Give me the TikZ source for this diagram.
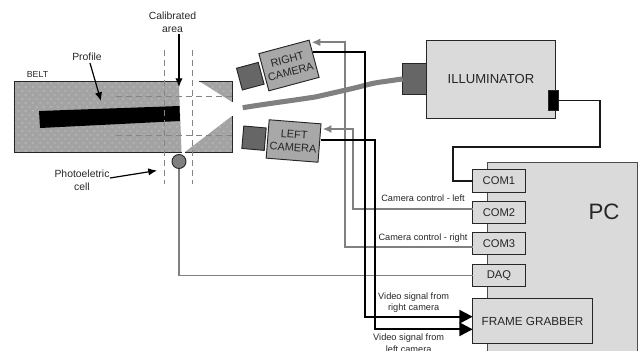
\documentclass[tikz,border=0pt]{standalone}
\usepackage{fontspec}
\setmainfont{Liberation Sans}
\usetikzlibrary{arrows.meta}
\definecolor{panel}{gray}{0.855}
\definecolor{body}{gray}{0.66}
\definecolor{lens}{gray}{0.4}
\definecolor{wiregray}{gray}{0.5}
\definecolor{beltgray}{gray}{0.64}
\definecolor{beltdot}{gray}{0.76}
\definecolor{beltcore}{gray}{0.5}
\def\u{0.75pt}
\tikzset{
  x=0.75pt,y=-0.75pt,
  box/.style={draw=black!85,line width=0.7pt,fill=panel,inner sep=0pt,outer sep=0pt,align=center,text=black!85},
  port/.style={box,minimum width=52.5*\u,minimum height=22.6*\u,font=\fontsize{8.4pt}{10pt}\selectfont},
  cambody/.style={box,fill=body,minimum width=52*\u,minimum height=38.5*\u,font=\fontsize{8.2pt}{10pt}\selectfont},
  camlens/.style={box,fill=lens,minimum width=22.5*\u,minimum height=22.5*\u},
  lbl/.style={inner sep=0pt,align=center,text=black!85,font=\fontsize{7.8pt}{9.4pt}\selectfont},
  smalllbl/.style={inner sep=0pt,align=center,text=black!85,font=\fontsize{6.9pt}{8.3pt}\selectfont},
  guide/.style={draw=black!48,line width=0.55pt,dash pattern=on 4.5pt off 3pt},
  graywire/.style={draw=wiregray,line width=1.4pt},
  tipgray/.style={-{Latex[length=6.5pt,width=6pt]}},
  blackwire/.style={draw=black!90,line width=1.3pt},
  thickblack/.style={draw=black,line width=1.7pt,-{Triangle[length=10pt,width=10pt]}},
  pointer/.style={draw=black,line width=0.9pt,-{Latex[length=6.5pt,width=5.5pt]}},
}
\begin{document}
\begin{tikzpicture}
\useasboundingbox (0,0) rectangle (642,350);
% belt
\def\beltshape{(14,81) -- (179,81) -- (179,87) -- (181.5,152) -- (14,152) -- cycle (199,81) -- (232,81) -- (232,102) -- cycle (232,116) -- (232,152) -- (185,152) -- cycle}
\fill[beltgray] \beltshape;
\begin{scope}
  \clip \beltshape;
  \foreach \r in {0,...,18}{
    \foreach \c in {0,...,31}{
      \pgfmathsetmacro{\xx}{15+\c*7.2+mod(\r,2)*3.6}
      \pgfmathsetmacro{\yy}{83+\r*4}
      \fill[beltdot] (\xx,\yy) circle[radius=1.15];
      \fill[beltcore] (\xx,\yy) circle[radius=0.5];
    }
  }
\end{scope}
\draw[draw=black!85,line width=0.7pt] (179,81) -- (14,81) -- (14,152) -- (181.5,152) (199,81) -- (232,81) -- (232,102) (232,116) -- (232,152) -- (185,152);
\fill[black] (39,111) -- (179.5,106) -- (180,121) -- (40,128) -- cycle;
% guides
\draw[guide] (164,50) -- (164,184);
\draw[guide] (192.5,50) -- (192.5,184);
\draw[guide] (116,96.5) -- (232,96.5);
\draw[guide] (116,135) -- (232,135);
% cameras and illuminator
\node[cambody,rotate=15] (rcam) at (289,65.5) {RIGHT\\CAMERA};
\node[camlens,rotate=15] (rlens) at (250.3,76.2) {};
\node[cambody,rotate=-4.5] (lcam) at (293.6,141) {LEFT\\CAMERA};
\node[camlens,rotate=-5] (llens) at (254,138.2) {};
\node[box,minimum width=128.6*\u,minimum height=78.7*\u,font=\fontsize{9.8pt}{12pt}\selectfont] (ill) at (491,79.4) {ILLUMINATOR};
\node[box,fill=lens,minimum width=23.3*\u,minimum height=31.7*\u] (illlens) at (414.4,78.9) {};
\node[box,fill=black,minimum width=10.3*\u,minimum height=20.4*\u] (illport) at (553.2,100.5) {};
% beam
\coordinate (beamstart) at (242.7,107.7);
\draw[wiregray,line width=3.8pt] (beamstart) .. controls (275,102.5) and (300,99.5) .. (316.7,96.7) -- (353.3,88.3) .. controls (365,85.5) and (372,83) .. (383.3,81.7) -- (illlens.west);
% PC
\fill[panel] (487.7,162) rectangle (637.7,352);
\draw[draw=black!70,line width=0.7pt] (487.7,352) -- (487.7,162) -- (637.7,162) -- (637.7,352);
\node[lbl,font=\fontsize{16.7pt}{20pt}\selectfont] (pc) at (604,211.7) {PC};
\node[port] (com1) at (498.9,181) {COM1};
\node[port] (com2) at (499,212.5) {COM2};
\node[port] (com3) at (499,243.3) {COM3};
\node[port] (daq) at (499,275.5) {DAQ};
\node[box,minimum width=119.6*\u,minimum height=44.6*\u,font=\fontsize{8.8pt}{11pt}\selectfont] (fg) at (532.5,321) {FRAME GRABBER};
% cell
\node[draw=black!85,line width=0.7pt,fill=wiregray,circle,minimum size=14*\u,inner sep=0pt,outer sep=0pt] (cell) at (179,161.5) {};
% connection points
\coordinate (rin) at (311.7,42.3);
\coordinate (lin) at (322.7,129);
\coordinate (rout) at (313.3,52.3);
\coordinate (lout) at (321,139.7);
\coordinate (c2) at (472.7,208.7);
\coordinate (c3) at (472.7,247);
\coordinate (fgr) at (472.7,316.7);
\coordinate (fgl) at (472.7,329.3);
% wires
\draw[graywire] (cell.south) |- (daq.west);
\draw[graywire,tipgray] (c3) -| (344.7,42.3) -- (rin);
\draw[graywire,tipgray] (c2) -| (353.3,129) -- (lin);
\draw[blackwire] (illport.east) -| (600,147) -| (453.3,181) -- (com1.west);
\draw[thickblack] (rout) -| (365.3,316.7) -- (fgr);
\draw[thickblack] (lout) -| (374.7,329.3) -- (fgl);
% labels
\node[lbl,font=\fontsize{6.6pt}{8pt}\selectfont] (beltl) at (37.5,74) {BELT};
\node[lbl] (prof) at (87,57) {Profile};
\node[lbl] (cal) at (172.5,22.5) {Calibrated\\area};
\node[lbl] (photo) at (82,180.5) {Photoeletric\\cell};
\coordinate (proftip) at (101,101);
\coordinate (caltip) at (179,87);
\coordinate (phototip) at (157,170.5);
\draw[pointer] (prof.south) ++(3,2) -- (proftip);
\draw[pointer] (cal.south) ++(6.5,1) -- (caltip);
\draw[pointer] (110,178) -- (phototip);
\node[smalllbl] (cl) at (423,198) {Camera control - left};
\node[smalllbl] (cr) at (423,238) {Camera control - right};
\node[smalllbl] (vr) at (413.7,302.2) {Video signal from\\right camera};
\node[smalllbl] (vl) at (408.7,343.2) {Video signal from\\left camera};
\end{tikzpicture}
\end{document}
